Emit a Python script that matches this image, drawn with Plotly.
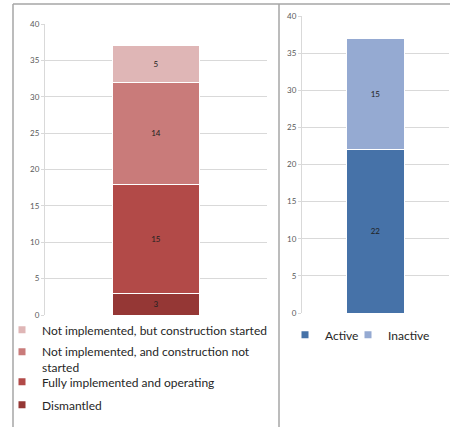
import plotly.graph_objects as go

W, H = 450, 427

# ---- data ----
category = [""]
status_names = [
    "Dismantled",
    "Fully implemented and operating",
    "Not implemented, and construction not<br>started",
    "Not implemented, but construction started",
]
status_values = [3, 15, 14, 5]
status_colors = ["#953735", "#B24A48", "#C97B7A", "#DFB6B6"]

activity_names = ["Active", "Inactive"]
activity_values = [22, 15]
activity_colors = ["#4672A8", "#95AAD2"]

y_ticks = [0, 5, 10, 15, 20, 25, 30, 35, 40]


def px_x(v):
    return v / W


def px_y(v):
    return 1 - v / H


FONT = "Lato"
fig = go.Figure()

# legend slot for each status, bottom series -> lowest legend
status_legend = ["legend4", "legend3", "legend2", "legend"]
activity_legend = ["legend5", "legend6"]

for name, val, col, lg in zip(status_names, status_values, status_colors, status_legend):
    fig.add_trace(go.Bar(
        x=category, y=[val], name=name, marker=dict(color=col, line=dict(color="white", width=1)),
        text=[val], texttemplate="%{y}", textposition="inside", insidetextanchor="middle",
        textfont=dict(size=8, color="#222222", family=FONT), xaxis="x", yaxis="y",
        showlegend=False, hoverinfo="skip",
    ))
    fig.add_trace(go.Scatter(
        x=[None], y=[None], mode="markers", name=name,
        marker=dict(symbol="square", size=7, color=col),
        xaxis="x", yaxis="y", legend=lg, showlegend=True,
    ))

for name, val, col, lg in zip(activity_names, activity_values, activity_colors, activity_legend):
    fig.add_trace(go.Bar(
        x=category, y=[val], name=name, marker=dict(color=col, line=dict(color="white", width=1)),
        text=[val], texttemplate="%{y}", textposition="inside", insidetextanchor="middle",
        textfont=dict(size=8, color="#222222", family=FONT), xaxis="x2", yaxis="y2",
        showlegend=False, hoverinfo="skip",
    ))
    fig.add_trace(go.Scatter(
        x=[None], y=[None], mode="markers", name=name,
        marker=dict(symbol="square", size=7, color=col),
        xaxis="x2", yaxis="y2", legend=lg, showlegend=True,
    ))

yax = dict(range=[0, 40], tickvals=y_ticks, showgrid=True, gridcolor="#D9D9D9", gridwidth=1,
           zeroline=False, showline=True, linecolor="#D9D9D9", linewidth=1,
           ticks="outside", ticklen=3, tickcolor="#D9D9D9",
           tickfont=dict(size=8, color="#595959", family=FONT), fixedrange=True)
xax = dict(showticklabels=False, showgrid=False, zeroline=False, showline=False, ticks="", fixedrange=True)

leg_common = dict(font=dict(size=12, color="#262626", family=FONT), bgcolor="rgba(0,0,0,0)",
                  xanchor="left", yanchor="middle", itemwidth=30, valign="top",
                  itemclick=False, itemdoubleclick=False)

line_col = "#A6A6A6"
shapes = [
    dict(type="line", xref="paper", yref="paper", x0=px_x(13), x1=1.0, y0=px_y(4), y1=px_y(4),
         line=dict(color=line_col, width=1.5)),
    dict(type="line", xref="paper", yref="paper", x0=px_x(13), x1=px_x(13), y0=px_y(4), y1=0,
         line=dict(color=line_col, width=1.5)),
    dict(type="line", xref="paper", yref="paper", x0=px_x(279), x1=px_x(279), y0=px_y(4), y1=0,
         line=dict(color=line_col, width=1.5)),
]

fig.update_layout(
    width=W, height=H, margin=dict(l=0, r=0, t=0, b=0, autoexpand=False),
    paper_bgcolor="white", plot_bgcolor="white",
    barmode="stack", bargap=0.61,
    xaxis=dict(domain=[px_x(45), px_x(267)], anchor="y", **xax),
    yaxis=dict(domain=[px_y(315), px_y(24)], anchor="x", **yax),
    xaxis2=dict(domain=[px_x(302), px_x(449)], anchor="y2", **xax),
    yaxis2=dict(domain=[px_y(313), px_y(16)], anchor="x2", **yax),
    legend=dict(x=px_x(2), y=px_y(330), **leg_common),
    legend2=dict(x=px_x(2), y=px_y(360), **leg_common),
    legend3=dict(x=px_x(2), y=px_y(382), **leg_common),
    legend4=dict(x=px_x(2), y=px_y(405), **leg_common),
    legend5=dict(x=px_x(285), y=px_y(335), **leg_common),
    legend6=dict(x=px_x(348), y=px_y(335), **leg_common),
    shapes=shapes,
    font=dict(family=FONT),
)

fig.write_html("out.html", config={"displayModeBar": False},
               post_script="document.body.style.margin='0';document.body.style.padding='0';")
